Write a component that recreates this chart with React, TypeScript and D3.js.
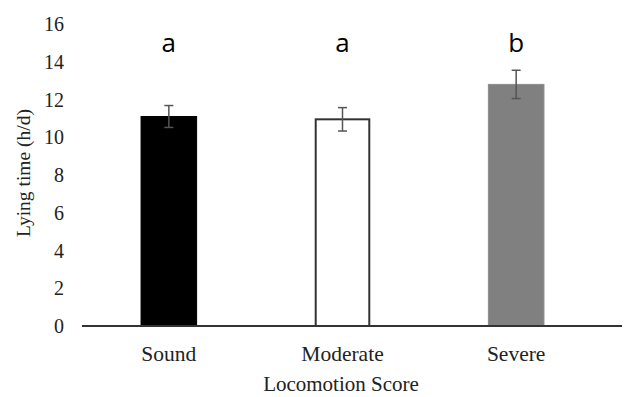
import React from "react";
import * as d3 from "d3";

const categories = ["Sound", "Moderate", "Severe"];
const means = [11.1, 10.95, 12.8];
const errors = [0.58, 0.62, 0.75];
const letters = ["a", "a", "b"];
const yTicks = [0, 2, 4, 6, 8, 10, 12, 14, 16];
const fills = ["#000000", "#ffffff", "#808080"];
const strokes = ["#000000", "#333333", "#8c8c8c"];

export default function App() {
  const W = 627, H = 397;
  const x = d3.scaleBand().domain(categories).range([82, 603]).paddingInner(0.68).paddingOuter(0.34);
  const y = d3.scaleLinear().domain([0, 16]).range([326, 24]);
  const serif = "'Liberation Serif', 'Times New Roman', serif";
  return (
    <svg width={W} height={H} style={{ position: "absolute", left: 0, top: 0, background: "#fff" }}>
      {yTicks.map((t) => (
        <text key={t} x={64} y={y(t)} dy="0.35em" textAnchor="end" fontFamily={serif} fontSize={20} fill="#222">{t}</text>
      ))}
      <text transform={`translate(30,${y(8) - 2}) rotate(-90)`} textAnchor="middle" fontFamily={serif} fontSize={19.5} fill="#222">Lying time (h/d)</text>
      {categories.map((c, i) => {
        const bx = x(c)!;
        const bw = x.bandwidth();
        const cx = bx + bw / 2;
        return (
          <g key={c}>
            <rect x={bx + (i === 1 ? 1 : 0)} y={y(means[i])} width={bw - (i === 1 ? 2 : 0)} height={y(0) - y(means[i])} fill={fills[i]} stroke={strokes[i]} strokeWidth={i === 1 ? 2 : 1} />
            <line x1={cx} x2={cx} y1={y(means[i] + errors[i])} y2={y(means[i] - errors[i])} stroke="#555" strokeWidth={1.5} />
            <line x1={cx - 4.5} x2={cx + 4.5} y1={y(means[i] + errors[i])} y2={y(means[i] + errors[i])} stroke="#555" strokeWidth={1.5} />
            <line x1={cx - 4.5} x2={cx + 4.5} y1={y(means[i] - errors[i])} y2={y(means[i] - errors[i])} stroke="#555" strokeWidth={1.5} />
            <text x={cx} y={52} textAnchor="middle" fontFamily="'Open Sans', 'Liberation Sans', sans-serif" fontSize={26} fill="#000">{letters[i]}</text>
            <text x={cx} y={361} textAnchor="middle" fontFamily={serif} fontSize={21.5} fill="#222">{c}</text>
          </g>
        );
      })}
      <line x1={82} x2={622} y1={y(0)} y2={y(0)} stroke="#333" strokeWidth={2} />
      <text x={341} y={391} textAnchor="middle" fontFamily={serif} fontSize={21} fill="#222">Locomotion Score</text>
    </svg>
  );
}
